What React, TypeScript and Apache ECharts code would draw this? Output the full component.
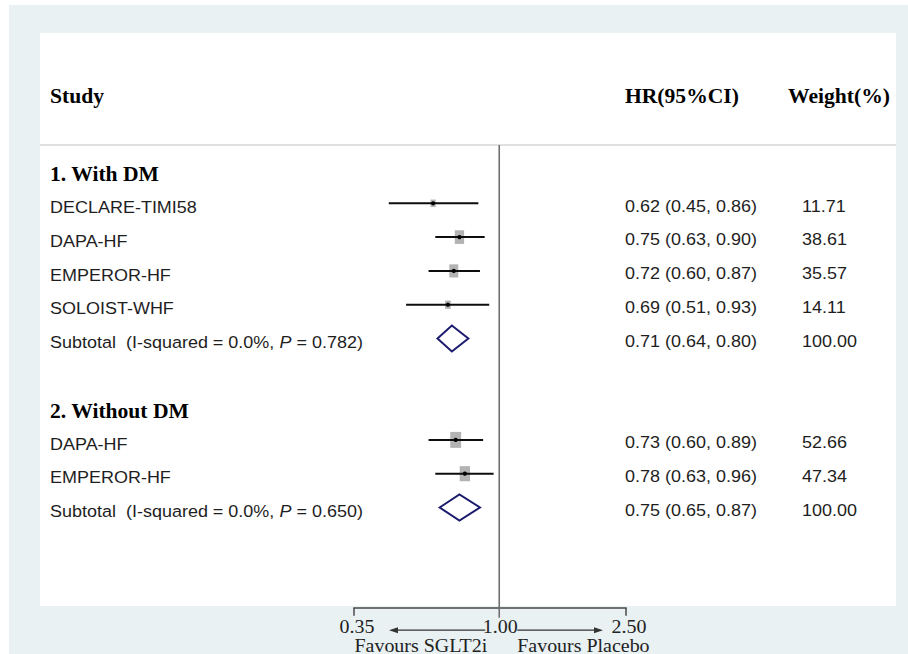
import React, { useEffect, useRef } from "react";
import * as echarts from "echarts";

// ---- data ----
const headers = ["Study", "HR(95%CI)", "Weight(%)"];
const groupTitles = ["1. With DM", "2. Without DM"];
const groupTitleRows = [-1, 6];
const studyNames = ["DECLARE-TIMI58", "DAPA-HF", "EMPEROR-HF", "SOLOIST-WHF", "DAPA-HF", "EMPEROR-HF"];
const studyRows = [0, 1, 2, 3, 7, 8];
const studyHR = [0.62, 0.75, 0.72, 0.69, 0.73, 0.78];
const studyLow = [0.45, 0.63, 0.6, 0.51, 0.6, 0.63];
const studyHigh = [0.86, 0.9, 0.87, 0.93, 0.89, 0.96];
const studyWeight = [11.71, 38.61, 35.57, 14.11, 52.66, 47.34];
const subtotalRows = [4, 9];
const subtotalHR = [0.71, 0.75];
const subtotalLow = [0.64, 0.65];
const subtotalHigh = [0.8, 0.87];
const subtotalI2 = ["0.0%", "0.0%"];
const subtotalP = ["0.782", "0.650"];
const subtotalWeight = [100, 100];
const tickValues = [0.35, 1, 2.5];
const favourLabels = ["Favours SGLT2i", "Favours Placebo"];

const Y_MIN = -1.725;
const Y_MAX = 11.965;

const SANS = "'Liberation Sans', Arial, sans-serif";
const SERIF = "'Liberation Serif', 'Times New Roman', serif";
const SANS_SIZE = 16.5;
const SANS_SX = 1.09;
const TEXT_COLOR = "#1e1e1e";
const COL_LABEL = 50;
const COL_HR = 625;
const COL_W = 802;

const fmt = (v: number) => v.toFixed(2);

function sansText(text: string, x: number, y: number) {
  return {
    type: "text",
    x,
    y,
    scaleX: SANS_SX,
    style: {
      text,
      fontFamily: SANS,
      fontSize: SANS_SIZE,
      fill: TEXT_COLOR,
      align: "left",
      verticalAlign: "middle",
    },
  };
}

export default function App() {
  const ref = useRef<HTMLDivElement>(null);

  useEffect(() => {
    document.body.style.margin = "0";
    if (!ref.current) return;
    const chart = echarts.init(ref.current, undefined, { renderer: "svg" });

    const studyData = studyNames.map((n, i) => [
      studyLow[i],
      studyHigh[i],
      studyHR[i],
      studyRows[i],
      studyWeight[i],
      i,
    ]);
    const subtotalData = subtotalRows.map((r, i) => [
      subtotalLow[i],
      subtotalHigh[i],
      subtotalHR[i],
      r,
      subtotalWeight[i],
      i,
    ]);
    const groupData = groupTitles.map((t, i) => [tickValues[0], groupTitleRows[i], i]);
    const tickData = tickValues.map((v, i) => [v, Y_MAX, i]);

    const option: any = {
      animation: false,
      backgroundColor: "#ffffff",
      grid: { left: 354, right: 282, top: 145, bottom: 46.3 },
      xAxis: {
        type: "log",
        min: 0.35,
        max: 2.5,
        axisLine: { show: true, onZero: false, lineStyle: { color: "#4a4a4a", width: 1.5 } },
        axisTick: { show: false },
        axisLabel: { show: false },
        splitLine: { show: false },
      },
      yAxis: {
        type: "value",
        min: Y_MIN,
        max: Y_MAX,
        inverse: true,
        show: false,
        axisLine: { onZero: false },
        splitLine: { show: false },
      },
      graphic: [
        { type: "rect", z: -10, shape: { x: 9, y: 5, width: 899, height: 649 }, style: { fill: "#e9f1f3" } },
        { type: "rect", z: -9, shape: { x: 40, y: 33, width: 856, height: 573 }, style: { fill: "#ffffff" } },
        { type: "line", z: -8, shape: { x1: 40, y1: 145, x2: 896, y2: 145 }, style: { stroke: "#d6d6d6", lineWidth: 1.5 } },
        ...headers.map((h, i) => ({
          type: "text",
          z: 50,
          x: [50, 625, 788][i],
          y: 96,
          scaleX: 1.08,
          style: {
            text: h,
            fontFamily: SERIF,
            fontWeight: "bold",
            fontSize: 20,
            fill: "#000",
            align: "left",
            verticalAlign: "middle",
          },
        })),
      ],
      series: [
        {
          type: "custom",
          name: "ticks",
          data: tickData,
          encode: { x: 0, y: 1 },
          clip: false,
          z: 3,
          renderItem: (params: any, api: any) => {
            const v = api.value(0);
            const idx = api.value(2);
            const p = api.coord([v, Y_MAX]);
            const top = api.coord([v, Y_MIN])[1];
            const children: any[] = [];
            if (v === 1) {
              children.push({
                type: "line",
                shape: { x1: p[0], y1: top, x2: p[0], y2: p[1] + 10 },
                style: { stroke: "#707070", lineWidth: 1.6 },
              });
              const xl = api.coord([tickValues[0], Y_MAX])[0];
              const xr = api.coord([tickValues[tickValues.length - 1], Y_MAX])[0];
              const ay = p[1] + 22.5;
              const aL = xl + 35;
              const aR = xr - 23;
              const favStyle = { fontFamily: SERIF, fontSize: 19, lineHeight: 15, fill: "#222", verticalAlign: "middle" };
              children.push(
                { type: "line", shape: { x1: p[0] - 14, y1: ay, x2: aL + 6, y2: ay }, style: { stroke: "#333", lineWidth: 1.2 } },
                { type: "polygon", shape: { points: [[aL, ay], [aL + 9, ay - 3], [aL + 9, ay + 3]] }, style: { fill: "#333" } },
                { type: "line", shape: { x1: p[0] + 18, y1: ay, x2: aR - 6, y2: ay }, style: { stroke: "#333", lineWidth: 1.2 } },
                { type: "polygon", shape: { points: [[aR, ay], [aR - 9, ay - 3], [aR - 9, ay + 3]] }, style: { fill: "#333" } },
                {
                  type: "text",
                  x: p[0] - 12,
                  y: p[1] + 37.5,
                  scaleX: 1.05,
                  style: { text: favourLabels[0], ...favStyle, align: "right" },
                },
                {
                  type: "text",
                  x: p[0] + 18,
                  y: p[1] + 37.5,
                  scaleX: 1.05,
                  style: { text: favourLabels[1], ...favStyle, align: "left" },
                }
              );
            } else {
              children.push({
                type: "line",
                shape: { x1: p[0], y1: p[1], x2: p[0], y2: p[1] + 8 },
                style: { stroke: "#4a4a4a", lineWidth: 1.5 },
              });
            }
            children.push({
              type: "text",
              x: p[0] + (idx === 1 ? 1 : 3),
              y: p[1] + 18.5,
              scaleX: 1.05,
              style: {
                text: fmt(v),
                fontFamily: SERIF,
                fontSize: 19,
                fill: "#222",
                align: "center",
                verticalAlign: "middle",
              },
            });
            return { type: "group", children };
          },
        },
        {
          type: "custom",
          name: "groups",
          data: groupData,
          encode: { x: 0, y: 1 },
          clip: false,
          z: 4,
          renderItem: (params: any, api: any) => {
            const p = api.coord([api.value(0), api.value(1)]);
            return {
              type: "text",
              x: COL_LABEL,
              y: p[1] + 5,
              scaleX: 1.08,
              style: {
                text: groupTitles[api.value(2)],
                fontFamily: SERIF,
                fontWeight: "bold",
                fontSize: 20,
                fill: "#000",
                align: "left",
                verticalAlign: "middle",
              },
            };
          },
        },
        {
          type: "custom",
          name: "studies",
          data: studyData,
          encode: { x: [0, 1, 2], y: 3 },
          clip: false,
          z: 5,
          renderItem: (params: any, api: any) => {
            const low = api.value(0);
            const high = api.value(1);
            const hr = api.value(2);
            const row = api.value(3);
            const w = api.value(4);
            const idx = api.value(5);
            const p1 = api.coord([low, row]);
            const p2 = api.coord([high, row]);
            const pc = api.coord([hr, row]);
            const s = Math.sqrt(w);
            const bw = 1.5 * s;
            const bh = 2.2 * s;
            return {
              type: "group",
              children: [
                { type: "rect", shape: { x: pc[0] - bw / 2, y: pc[1] - bh / 2, width: bw, height: bh }, style: { fill: "#b3b3b3" } },
                { type: "line", shape: { x1: p1[0], y1: p1[1], x2: p2[0], y2: p2[1] }, style: { stroke: "#0d0d0d", lineWidth: 2 } },
                { type: "circle", shape: { cx: pc[0], cy: pc[1], r: 2.1 }, style: { fill: "#000" } },
                sansText(studyNames[idx], COL_LABEL, pc[1] + 4),
                sansText(`${fmt(hr)} (${fmt(low)}, ${fmt(high)})`, COL_HR, pc[1] + 2.5),
                sansText(fmt(w), COL_W, pc[1] + 2.5),
              ],
            };
          },
        },
        {
          type: "custom",
          name: "subtotals",
          data: subtotalData,
          encode: { x: [0, 1, 2], y: 3 },
          clip: false,
          z: 5,
          renderItem: (params: any, api: any) => {
            const low = api.value(0);
            const high = api.value(1);
            const hr = api.value(2);
            const row = api.value(3);
            const w = api.value(4);
            const idx = api.value(5);
            const pl = api.coord([low, row]);
            const ph = api.coord([high, row]);
            const pc = api.coord([hr, row]);
            const dh = 13;
            const base = { fontFamily: SANS, fontSize: SANS_SIZE, fill: TEXT_COLOR };
            return {
              type: "group",
              children: [
                {
                  type: "polygon",
                  shape: { points: [[pl[0], pc[1]], [pc[0], pc[1] - dh], [ph[0], pc[1]], [pc[0], pc[1] + dh]] },
                  style: { fill: "none", stroke: "#1c1c6e", lineWidth: 2 },
                },
                {
                  type: "text",
                  x: COL_LABEL,
                  y: pc[1] + 3.5,
                  scaleX: SANS_SX,
                  style: {
                    text: `{a|Subtotal\u00a0\u00a0(I-squared = ${subtotalI2[idx]}, }{b|P}{a| = ${subtotalP[idx]})}`,
                    rich: { a: { ...base }, b: { ...base, fontStyle: "italic" } },
                    ...base,
                    align: "left",
                    verticalAlign: "middle",
                  },
                },
                sansText(`${fmt(hr)} (${fmt(low)}, ${fmt(high)})`, COL_HR, pc[1] + 2.5),
                sansText(fmt(w), COL_W, pc[1] + 2.5),
              ],
            };
          },
        },
      ],
    };

    chart.setOption(option);
    return () => chart.dispose();
  }, []);

  return <div ref={ref} style={{ width: 908, height: 654 }} />;
}
